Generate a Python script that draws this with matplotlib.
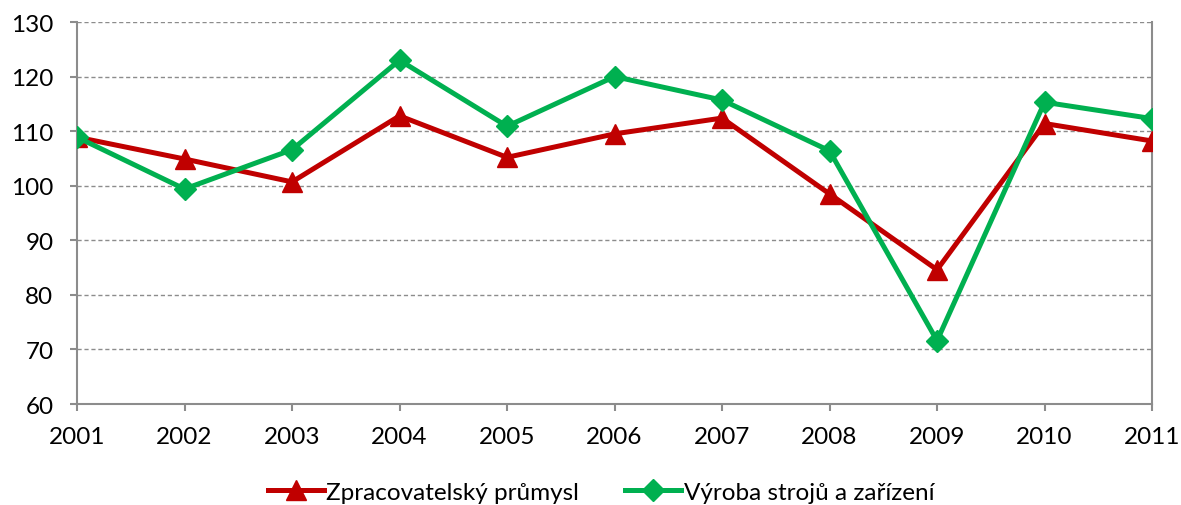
import matplotlib
matplotlib.use("Agg")
import matplotlib.pyplot as plt

years = [2001, 2002, 2003, 2004, 2005, 2006, 2007, 2008, 2009, 2010, 2011]
zpracovatelsky = [108.9, 104.9, 100.7, 112.8, 105.2, 109.5, 112.4, 98.5, 84.6, 111.4, 108.2]
vyroba = [108.9, 99.4, 106.6, 123.0, 110.9, 120.0, 115.7, 106.4, 71.6, 115.3, 112.3]
yticks = [60, 70, 80, 90, 100, 110, 120, 130]

plt.rcParams['font.family'] = ['Lato', 'DejaVu Sans']

fig = plt.figure(figsize=(11.81, 5.06), dpi=100)
ax = fig.add_axes([0.0652, 0.1996, 0.9103, 0.7549])

ax.plot(years, zpracovatelsky, color='#C00000', lw=3.6, marker='^', ms=14,
        label='Zpracovatelský průmysl', zorder=3)
ax.plot(years, vyroba, color='#00B050', lw=3.6, marker='D', ms=11,
        label='Výroba strojů a zařízení', zorder=4)

ax.set_xlim(2001, 2011)
ax.set_ylim(60, 130)
ax.set_yticks(yticks)
ax.set_xticks(years)
ax.yaxis.grid(True, ls=(0, (3, 2)), color='#8c8c8c', lw=1)
ax.set_axisbelow(True)
for s in ['left', 'bottom', 'right']:
    ax.spines[s].set_color('#8c8c8c')
    ax.spines[s].set_linewidth(1.5)
ax.spines['top'].set_visible(False)
ax.tick_params(axis='both', colors='#8c8c8c', labelcolor='black', labelsize=17.5,
               length=5, width=1.5, direction='out')
ax.tick_params(axis='x', pad=11)
ax.tick_params(axis='y', pad=12)

leg = fig.legend(loc='center', bbox_to_anchor=(0.509, 1 - 493 / 506), ncol=2,
                 frameon=False, fontsize=17.5, handlelength=2.3, columnspacing=1.9,
                 handletextpad=0.1)

fig.savefig('out.png', dpi=100)
